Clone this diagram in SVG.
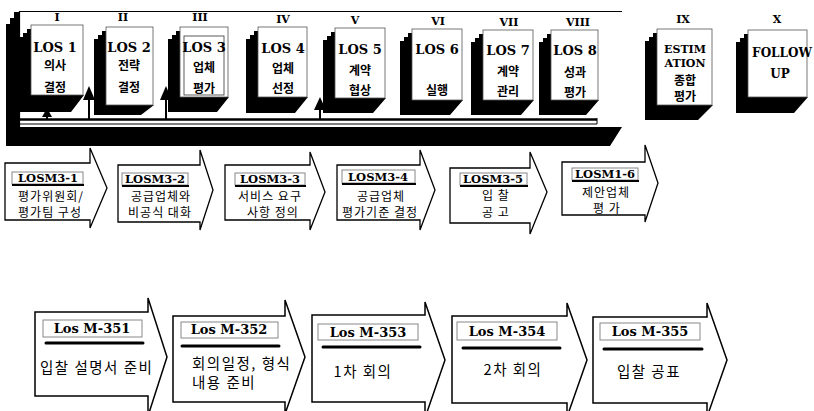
<svg xmlns="http://www.w3.org/2000/svg" width="814" height="411" viewBox="0 0 814 411">
<style>
.sh{fill:#000}
.card{fill:#fff;stroke:#555;stroke-width:0.8}
.rom{font-family:"DejaVu Serif","Liberation Serif",serif;font-weight:bold;font-size:11px;text-anchor:middle}
.los{font-family:"DejaVu Serif","Liberation Serif",serif;font-weight:bold;font-size:13px;text-anchor:middle}
.lat{font-family:"DejaVu Serif","Liberation Serif",serif;font-weight:bold;font-size:12px;text-anchor:middle}
.est{font-family:"DejaVu Serif","Liberation Serif",serif;font-weight:bold;font-size:11px;text-anchor:middle}
.kc{font-family:"Noto Sans CJK KR",sans-serif;font-weight:bold;font-size:12px;text-anchor:middle}
.arr2{fill:#fff;stroke:#000;stroke-width:1.3;stroke-linejoin:miter}
.arr3{fill:#fff;stroke:#000;stroke-width:1.5;stroke-linejoin:miter}
.lb{fill:#fff;stroke:#888;stroke-width:1}
.ul2{stroke:#000;stroke-width:2}
.ul3{stroke:#000;stroke-width:3;stroke-linecap:round}
.t2{font-family:"DejaVu Serif","Liberation Serif",serif;font-weight:bold;font-size:11.5px;text-anchor:middle}
.t3{font-family:"DejaVu Serif","Liberation Serif",serif;font-weight:bold;font-size:13px;text-anchor:middle}
.k2{font-family:"Noto Sans CJK KR",sans-serif;font-size:12px;letter-spacing:1px;text-anchor:middle}
.k3{font-family:"Noto Sans CJK KR",sans-serif;font-size:14.5px;letter-spacing:1.5px}
.cl{stroke:#000;fill:none}
</style>

<g id="frame">
<path class="sh" d="M20,12 L14,12 L14,18 L10,18 L10,24 L6,24 L6,146 L610,146 L622,127 L20,127 Z"/>
<path class="cl" stroke-width="1.2" d="M19.5,127 V11.5 H622"/>
</g>

<g id="connectors">
<line class="cl" x1="20" y1="119.5" x2="597" y2="119.5" stroke-width="2.5"/>
<path class="cl" stroke-width="1" d="M20,124 H597 V118"/>
<line class="cl" x1="47" y1="112" x2="47" y2="119" stroke-width="2"/>
<polygon class="sh" points="47,108 52,117 42,117"/>
<line class="cl" x1="89" y1="98" x2="89" y2="119" stroke-width="2"/>
<polygon class="sh" points="89,86 95,100 83,100"/>
<line class="cl" x1="166" y1="98" x2="166" y2="119" stroke-width="2"/>
<polygon class="sh" points="166,86 172,100 160,100"/>
<line class="cl" x1="320" y1="108" x2="320" y2="119" stroke-width="2"/>
<polygon class="sh" points="320,97 326,110 314,110"/>
</g>

<g id="card1">
<polygon class="sh" points="31,29 27,29 27,33 23,33 23,37 19,37 19,112 71,112 84,95 31,95"/>
<rect class="card" x="31" y="25" width="52" height="70"/>
<text class="rom" x="57" y="21">I</text>
<text class="los" x="55" y="52">LOS 1</text>
<text class="kc" x="55" y="70">의사</text>
<text class="kc" x="55" y="92">결정</text>
</g>

<g id="card2">
<polygon class="sh" points="106,31 102,31 102,35 98,35 98,39 94,39 94,115 141,115 154,105 106,105"/>
<rect class="card" x="106" y="27" width="47" height="78"/>
<text class="rom" x="123" y="21">II</text>
<text class="los" x="129" y="52">LOS 2</text>
<text class="kc" x="129" y="70">전략</text>
<text class="kc" x="129" y="92">결정</text>
</g>

<g id="card3">
<polygon class="sh" points="180,31 176,31 176,35 172,35 172,39 168,39 168,112 217,112 229,97 180,97"/>
<rect class="card" x="180" y="27" width="48" height="70"/>
<rect x="184" y="36" width="40" height="59" fill="none" stroke="#333" stroke-width="0.8"/>
<text class="rom" x="200" y="21">III</text>
<text class="los" x="204" y="52">LOS 3</text>
<text class="kc" x="204" y="72">업체</text>
<text class="kc" x="204" y="93">평가</text>
</g>

<g id="card4">
<polygon class="sh" points="258,31 254,31 254,35 250,35 250,39 246,39 246,113 295,113 308,97 258,97"/>
<rect class="card" x="258" y="27" width="49" height="70"/>
<text class="rom" x="283" y="23">IV</text>
<text class="los" x="283" y="53">LOS 4</text>
<text class="kc" x="283" y="73">업체</text>
<text class="kc" x="283" y="93">선정</text>
</g>

<g id="card5">
<polygon class="sh" points="335,32 331,32 331,36 327,36 327,40 323,40 323,113 373,113 386,98 335,98"/>
<rect class="card" x="335" y="28" width="50" height="70"/>
<text class="rom" x="355" y="24">V</text>
<text class="los" x="360" y="54">LOS 5</text>
<text class="kc" x="360" y="75">계약</text>
<text class="kc" x="360" y="95">협상</text>
</g>

<g id="card6">
<polygon class="sh" points="412,33 408,33 408,37 404,37 404,41 400,41 400,115 450,115 463,100 412,100"/>
<rect class="card" x="412" y="29" width="50" height="71"/>
<text class="rom" x="438" y="25">VI</text>
<text class="los" x="437" y="54">LOS 6</text>
<text class="kc" x="437" y="95">실행</text>
</g>

<g id="card7">
<polygon class="sh" points="483,34 479,34 479,38 475,38 475,42 471,42 471,115 521,115 534,100 483,100"/>
<rect class="card" x="483" y="30" width="50" height="70"/>
<text class="rom" x="509" y="26">VII</text>
<text class="los" x="508" y="55">LOS 7</text>
<text class="kc" x="508" y="76">계약</text>
<text class="kc" x="508" y="96">관리</text>
</g>

<g id="card8">
<polygon class="sh" points="551,34 547,34 547,38 543,38 543,42 539,42 539,115 586,115 599,100 551,100"/>
<rect class="card" x="551" y="30" width="47" height="70"/>
<text class="rom" x="578" y="26">VIII</text>
<text class="los" x="575" y="55">LOS 8</text>
<text class="kc" x="575" y="77">성과</text>
<text class="kc" x="575" y="97">평가</text>
</g>

<g id="card9">
<polygon class="sh" points="657,33 653,33 653,37 649,37 649,41 645,41 645,120 698,120 713,105 657,105"/>
<rect class="card" x="657" y="29" width="55" height="76"/>
<text class="rom" x="683" y="23">IX</text>
<text class="est" x="685" y="53">ESTIM</text>
<text class="est" x="685" y="67">ATION</text>
<text class="kc" x="685" y="85">종합</text>
<text class="kc" x="685" y="101">평가</text>
</g>

<g id="card10">
<polygon class="sh" points="748,34 744,34 744,38 740,38 740,42 736,42 736,113 794,113 808,97 748,97"/>
<rect class="card" x="748" y="30" width="59" height="67"/>
<text class="rom" x="777" y="23">X</text>
<text class="lat" x="782" y="57">FOLLOW</text>
<text class="lat" x="780" y="78">UP</text>
</g>

<g id="losm3-1">
<path class="arr2" d="M5,163 H90 V148 L107,188 L90,228 V220 H5 Z"/>
<rect class="lb" x="12" y="172" width="71" height="12"/>
<line class="ul2" x1="12" y1="185" x2="84" y2="185"/>
<text class="t2" x="48" y="182">LOSM3-1</text>
<text class="k2" x="51" y="201">평가위원회/</text>
<text class="k2" x="50" y="217">평가팀 구성</text>
</g>

<g id="losm3-2">
<path class="arr2" d="M118,165 H200 V150 L213,190 L200,230 V222 H118 Z"/>
<rect class="lb" x="122" y="173" width="66" height="12"/>
<line class="ul2" x1="122" y1="186" x2="189" y2="186"/>
<text class="t2" x="155" y="183">LOSM3-2</text>
<text class="k2" x="161" y="201">공급업체와</text>
<text class="k2" x="160" y="217">비공식 대화</text>
</g>

<g id="losm3-3">
<path class="arr2" d="M225,165 H310 V152 L325,192 L310,230 V220 H225 Z"/>
<rect class="lb" x="235" y="173" width="70" height="12"/>
<line class="ul2" x1="235" y1="186" x2="306" y2="186"/>
<text class="t2" x="270" y="183">LOSM3-3</text>
<text class="k2" x="270" y="201">서비스 요구</text>
<text class="k2" x="273" y="217">사항 정의</text>
</g>

<g id="losm3-4">
<path class="arr2" d="M337,165 H420 V150 L435,190 L420,230 V220 H337 Z"/>
<rect class="lb" x="342" y="170" width="73" height="13"/>
<line class="ul2" x1="342" y1="184" x2="416" y2="184"/>
<text class="t2" x="378" y="181">LOSM3-4</text>
<text class="k2" x="381" y="201">공급업체</text>
<text class="k2" x="380" y="217">평가기준 결정</text>
</g>

<g id="losm3-5">
<path class="arr2" d="M450,168 H530 V152 L547,192 L530,234 V223 H450 Z"/>
<rect class="lb" x="460" y="173" width="67" height="12"/>
<line class="ul2" x1="460" y1="186" x2="528" y2="186"/>
<text class="t2" x="493" y="183">LOSM3-5</text>
<text class="k2" x="496" y="200">입 찰</text>
<text class="k2" x="496" y="217">공 고</text>
</g>

<g id="losm1-6">
<path class="arr2" d="M562,162 H645 V145 L658,183 L645,222 V215 H562 Z"/>
<rect class="lb" x="572" y="168" width="66" height="12"/>
<line class="ul2" x1="572" y1="181" x2="639" y2="181"/>
<text class="t2" x="605" y="178">LOSM1-6</text>
<text class="k2" x="606" y="197">제안업체</text>
<text class="k2" x="607" y="213">평 가</text>
</g>

<g id="losm-351">
<path class="arr3" d="M35,312 H148 V298 L167,357 L148,416 V396 H35 Z"/>
<rect class="lb" x="43" y="320" width="99" height="17"/>
<line class="ul3" x1="46" y1="343" x2="143" y2="343"/>
<text class="t3" x="92" y="333">Los M-351</text>
<text class="k3" x="40" y="373">입찰 설명서 준비</text>
</g>

<g id="losm-352">
<path class="arr3" d="M173,316 H285 V300 L305,357 L285,414 V402 H173 Z"/>
<rect class="lb" x="181" y="322" width="97" height="16"/>
<line class="ul3" x1="182" y1="346" x2="279" y2="346"/>
<text class="t3" x="229" y="334">Los M-352</text>
<text class="k3" x="192" y="369">회의일정, 형식</text>
<text class="k3" x="192" y="388">내용 준비</text>
</g>

<g id="losm-353">
<path class="arr3" d="M312,315 H425 V302 L445,360 L425,418 V402 H312 Z"/>
<rect class="lb" x="318" y="324" width="100" height="16"/>
<line class="ul3" x1="323" y1="347" x2="420" y2="347"/>
<text class="t3" x="368" y="337">Los M-353</text>
<text class="k3" x="363" y="377" text-anchor="middle">1차 회의</text>
</g>

<g id="losm-354">
<path class="arr3" d="M452,316 H567 V303 L587,360 L567,417 V403 H452 Z"/>
<rect class="lb" x="457" y="322" width="100" height="18"/>
<line class="ul3" x1="463" y1="348" x2="560" y2="348"/>
<text class="t3" x="507" y="336">Los M-354</text>
<text class="k3" x="513" y="375" text-anchor="middle">2차 회의</text>
</g>

<g id="losm-355">
<path class="arr3" d="M593,317 H707 V303 L727,360 L707,417 V403 H593 Z"/>
<rect class="lb" x="600" y="323" width="100" height="17"/>
<line class="ul3" x1="604" y1="349" x2="702" y2="349"/>
<text class="t3" x="650" y="336">Los M-355</text>
<text class="k3" x="649" y="377" text-anchor="middle">입찰 공표</text>
</g>
</svg>
